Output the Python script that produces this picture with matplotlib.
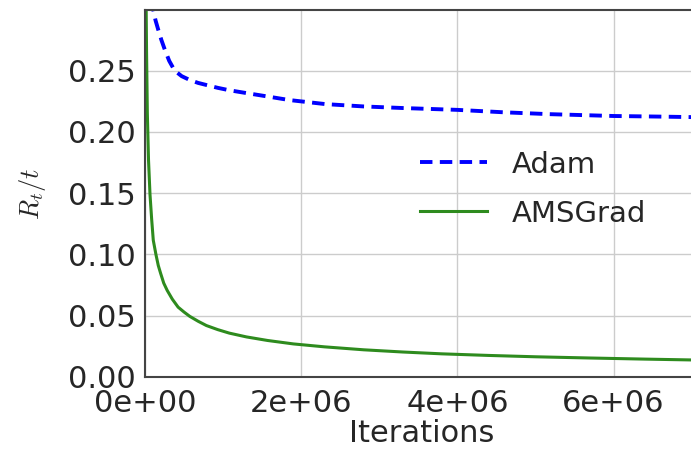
import matplotlib
matplotlib.use("Agg")
import matplotlib.pyplot as plt
from matplotlib.ticker import FormatStrFormatter

# regret per iteration R_t/t for both optimizers (iterations in millions)
adam_iters = [0.05, 0.08, 0.106, 0.135, 0.17, 0.21, 0.255, 0.31, 0.38, 0.47,
              0.573, 0.68, 0.786, 0.93, 1.08, 1.27, 1.465, 1.85, 2.31, 2.8,
              3.3, 4.0, 4.6, 5.18, 6.0, 6.6, 7.1]
adam_regret = [0.34, 0.312, 0.2995, 0.291, 0.2833, 0.275, 0.2669, 0.258, 0.250, 0.2455,
               0.2424, 0.240, 0.2383, 0.236, 0.234, 0.232, 0.230, 0.226, 0.2227, 0.2208,
               0.2195, 0.218, 0.216, 0.2145, 0.213, 0.2125, 0.212]

ams_iters = [0.004, 0.01, 0.015, 0.02, 0.03, 0.045, 0.064, 0.085, 0.106, 0.14,
             0.17, 0.2, 0.24, 0.284, 0.35, 0.424, 0.5, 0.573, 0.68, 0.786,
             0.93, 1.08, 1.3, 1.57, 1.9, 2.3, 2.8, 3.3, 3.8, 4.4,
             5.0, 5.7, 6.4, 7.1]
ams_regret = [0.55, 0.37, 0.30, 0.265, 0.215, 0.177, 0.149, 0.129, 0.1116, 0.100,
              0.091, 0.0846, 0.0766, 0.0707, 0.0635, 0.057, 0.053, 0.0495, 0.0455, 0.042,
              0.0387, 0.0358, 0.0327, 0.0298, 0.027, 0.0246, 0.0222, 0.0204, 0.0189, 0.0176,
              0.0165, 0.0155, 0.0146, 0.0138]

yticks = [0.00, 0.05, 0.10, 0.15, 0.20, 0.25]
xticks = [0, 2e6, 4e6, 6e6]

plt.rcParams["font.family"] = "DejaVu Sans"
plt.rcParams["mathtext.fontset"] = "cm"
plt.rcParams["text.color"] = "#262626"
plt.rcParams["xtick.color"] = "#262626"
plt.rcParams["ytick.color"] = "#262626"
plt.rcParams["axes.labelcolor"] = "#262626"

fig = plt.figure(figsize=(6.91, 4.53), dpi=100)
ax = fig.add_axes([145 / 691, 1 - 377 / 453, 1.01 - 145 / 691, 367 / 453])

ax.plot([t * 1e6 for t in adam_iters], adam_regret, "--", color="#0000ff",
        lw=2.8, dashes=(3.2, 1.9), label="Adam")
ax.plot([t * 1e6 for t in ams_iters], ams_regret, "-", color="#2e8b1e",
        lw=2.2, label="AMSGrad")

ax.set_xlim(0, 7.08e6)
ax.set_ylim(0, 0.2995)
ax.set_xticks(xticks)
ax.set_yticks(yticks)
ax.xaxis.set_major_formatter(FormatStrFormatter("%.0e"))
ax.yaxis.set_major_formatter(FormatStrFormatter("%.2f"))
ax.tick_params(labelsize=22, length=0)
ax.tick_params(axis="x", pad=9)
ax.tick_params(axis="y", pad=7)

ax.grid(True, color="#cccccc", lw=1)
ax.set_axisbelow(True)
for s in ax.spines.values():
    s.set_color("#444444")
    s.set_linewidth(1.5)

ax.set_xlabel("Iterations", fontsize=22, labelpad=0)
ax.set_ylabel("$R_t/t$", fontsize=19, labelpad=14)

ax.legend(loc="center left", bbox_to_anchor=(0.45, 0.512), frameon=False,
          fontsize=21, handlelength=2.3, handletextpad=0.85, labelspacing=0.72)

fig.savefig("out.png", dpi=100)
